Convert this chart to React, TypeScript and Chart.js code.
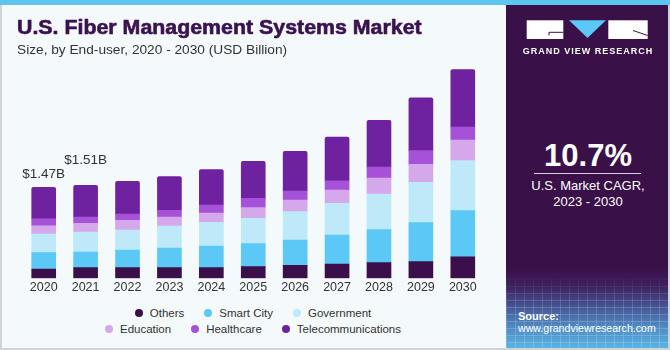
import React, { useEffect, useRef } from "react";
import { Chart, registerables } from "chart.js";

Chart.register(...registerables);

const years = ["2020", "2021", "2022", "2023", "2024", "2025", "2026", "2027", "2028", "2029", "2030"];
const others = [0.15, 0.172, 0.172, 0.172, 0.172, 0.188, 0.21, 0.231, 0.253, 0.269, 0.345];
const smartCity = [0.264, 0.253, 0.285, 0.318, 0.35, 0.372, 0.409, 0.468, 0.533, 0.63, 0.748];
const government = [0.3, 0.323, 0.323, 0.355, 0.382, 0.409, 0.458, 0.511, 0.576, 0.651, 0.808];
const education = [0.135, 0.14, 0.156, 0.145, 0.151, 0.172, 0.188, 0.215, 0.258, 0.291, 0.334];
const healthcare = [0.113, 0.102, 0.102, 0.108, 0.129, 0.151, 0.145, 0.151, 0.178, 0.221, 0.21];
const telecom = [0.506, 0.512, 0.528, 0.544, 0.571, 0.598, 0.641, 0.705, 0.754, 0.856, 0.926];

const seriesNames = ["Others", "Smart City", "Government", "Education", "Healthcare", "Telecommunications"];
const seriesValues = [others, smartCity, government, education, healthcare, telecom];
const seriesColors = ["#3a0f4a", "#5bc8f5", "#bde9f9", "#d5a8ec", "#a652d8", "#6f22a0"];

const valueLabels = ["$1.47B", "$1.51B"];
const legendRows = [[0, 1, 2], [3, 4, 5]];

const FONT = "'Liberation Sans', Arial, sans-serif";

const valueLabelPlugin = {
  id: "valueLabels",
  afterDatasetsDraw(chart: any) {
    const ctx = chart.ctx;
    const meta = chart.getDatasetMeta(chart.data.datasets.length - 1);
    const offsets = [13.5, 25.5];
    ctx.save();
    ctx.font = `13.5px ${FONT}`;
    ctx.fillStyle = "#333333";
    ctx.textAlign = "center";
    ctx.textBaseline = "middle";
    valueLabels.forEach((lbl, i) => {
      const el = meta.data[i];
      if (!el) return;
      ctx.fillText(lbl, el.x, el.y - offsets[i]);
    });
    ctx.restore();
  },
};

function BarChart() {
  const ref = useRef<HTMLCanvasElement | null>(null);
  useEffect(() => {
    if (!ref.current) return;
    const chart = new Chart(ref.current, {
      type: "bar",
      data: {
        labels: years,
        datasets: seriesNames.map((name, i) => ({
          label: name,
          data: seriesValues[i],
          backgroundColor: seriesColors[i],
          borderWidth: 0,
          barThickness: 24,
          borderRadius: i === seriesNames.length - 1 ? { topLeft: 2, topRight: 2, bottomLeft: 0, bottomRight: 0 } : 0,
          borderSkipped: false,
        })),
      },
      options: {
        animation: false,
        responsive: false,
        maintainAspectRatio: false,
        devicePixelRatio: 1,
        layout: { padding: { top: 55.5, left: 22.75, right: 22.25, bottom: 2.7 } },
        plugins: { legend: { display: false }, tooltip: { enabled: false } },
        scales: {
          x: {
            stacked: true,
            grid: { display: false, drawTicks: false, tickLength: 0 },
            border: { display: false },
            ticks: { color: "#333333", font: { family: FONT, size: 12.5 }, padding: 2 },
          },
          y: {
            stacked: true,
            display: false,
            min: 0,
            max: 3.6,
          },
        },
      },
      plugins: [valueLabelPlugin],
    });
    return () => chart.destroy();
  }, []);
  return <canvas ref={ref} width={506} height={300} style={{ position: "absolute", left: 0, top: 0, width: 506, height: 300 }} />;
}

export default function App() {
  useEffect(() => {
    document.body.style.margin = "0";
  }, []);
  const abs = (s: any) => ({ position: "absolute" as const, ...s });
  return (
    <div style={{ position: "relative", width: 670, height: 350, background: "#f4f9fc", overflow: "hidden", fontFamily: FONT }}>
      <div style={abs({ left: 0, top: 0, width: 670, height: 5, background: "#5cc6ef" })} />
      <BarChart />
      <div style={abs({ left: 17, top: 18.3, fontSize: 19.5, lineHeight: "19.5px", fontWeight: 700, color: "#3b1250", whiteSpace: "nowrap", WebkitTextStroke: "0.6px #3b1250", transform: "scaleX(1.095)", transformOrigin: "0 0" })}>
        U.S. Fiber Management Systems Market
      </div>
      <div style={abs({ left: 17, top: 42.6, fontSize: 13.7, lineHeight: "14px", color: "#333333", whiteSpace: "nowrap" })}>
        Size, by End-user, 2020 - 2030 (USD Billion)
      </div>
      {legendRows.map((row, r) => (
        <div key={r} style={abs({ left: 0, width: 506, top: r === 0 ? 304.7 : 320.7, height: 16, display: "flex", justifyContent: "center", alignItems: "center", gap: 20 })}>
          {row.map((idx) => (
            <div key={idx} style={{ display: "flex", alignItems: "center" }}>
              <span style={{ display: "inline-block", width: 8, height: 8, borderRadius: 4, background: seriesColors[idx], marginRight: 7 }} />
              <span style={{ fontSize: 11.5, lineHeight: "16px", color: "#333333", whiteSpace: "nowrap" }}>{seriesNames[idx]}</span>
            </div>
          ))}
        </div>
      ))}
      {/* right panel */}
      <div style={abs({ left: 506, top: 5, width: 164, height: 345, background: "linear-gradient(180deg, #3a1048 0px, #3a1048 262px, #3e2260 282px, #45508f 300px, #4f86c0 320px, #5ab8e6 345px)" })} />
      <div style={abs({ left: 506, top: 275, width: 164, height: 75, opacity: 0.35, backgroundImage: "repeating-linear-gradient(90deg, rgba(255,255,255,0.5) 0 1px, transparent 1px 9px), repeating-linear-gradient(0deg, rgba(255,255,255,0.5) 0 1px, transparent 1px 7px)", WebkitMaskImage: "linear-gradient(180deg, transparent 0, #000 30px)" })} />
      {/* logo */}
      <svg style={abs({ left: 506, top: 5 })} width={164} height={60}>
        <rect x={20.7} y={15.3} width={36.6} height={18.7} fill="#ffffff" />
        <polyline points="57.3,27.3 43,27.3 43,30.5" fill="none" stroke="#3a1048" strokeWidth={1} />
        <polygon points="63,15.3 100,15.3 81.5,33" fill="#5bc8f5" />
        <rect x={102.3} y={15.3} width={39.4} height={18.7} fill="#ffffff" />
        <line x1={127} y1={25.5} x2={141.7} y2={30.5} stroke="#3a1048" strokeWidth={1} />
      </svg>
      <div style={abs({ left: 506, width: 164, top: 46.6, textAlign: "center", fontSize: 9, lineHeight: "9px", fontWeight: 700, color: "#ffffff", letterSpacing: 1, whiteSpace: "nowrap" })}>
        GRAND VIEW RESEARCH
      </div>
      <div style={abs({ left: 506, width: 164, top: 139.5, textAlign: "center", fontSize: 31, lineHeight: "31px", fontWeight: 700, color: "#ffffff" })}>10.7%</div>
      <div style={abs({ left: 534, top: 172.8, width: 107, height: 1, background: "#d8d0e0" })} />
      <div style={abs({ left: 506, width: 164, top: 178.7, textAlign: "center", fontSize: 13, lineHeight: "13px", color: "#ffffff" })}>U.S. Market CAGR,</div>
      <div style={abs({ left: 506, width: 164, top: 194.7, textAlign: "center", fontSize: 13, lineHeight: "13px", color: "#ffffff" })}>2023 - 2030</div>
      <div style={abs({ left: 518, top: 311.3, fontSize: 11, lineHeight: "11px", fontWeight: 700, color: "#ffffff" })}>Source:</div>
      <div style={abs({ left: 518, top: 323.4, fontSize: 10.6, lineHeight: "11px", color: "#ffffff", whiteSpace: "nowrap" })}>www.grandviewresearch.com</div>
      {/* frame */}
      <div style={abs({ left: 0, top: 5, width: 2, height: 345, background: "#cfd3d6" })} />
      <div style={abs({ left: 668, top: 5, width: 2, height: 345, background: "#cfd3d6" })} />
      <div style={abs({ left: 0, top: 347.5, width: 670, height: 2.5, background: "#cfd3d6" })} />
    </div>
  );
}
